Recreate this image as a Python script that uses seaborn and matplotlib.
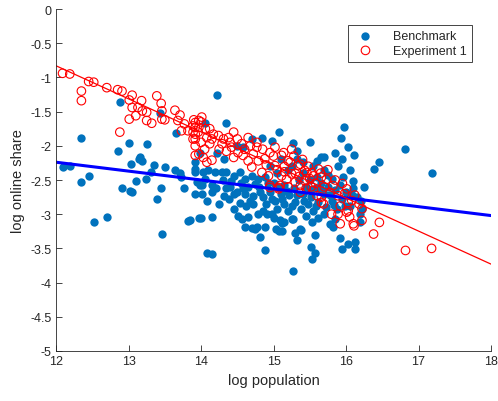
import matplotlib
matplotlib.use('Agg')
import matplotlib.pyplot as plt
import seaborn as sns
import numpy as np

# Benchmark (blue filled)
bench = [
    (12.10, -2.31), (12.19, -2.30), (12.35, -1.88), (12.35, -2.53), (12.45, -2.44),
    (12.52, -3.12), (12.70, -3.04), (12.88, -1.36), (12.85, -2.07), (13.01, -1.96),
    (13.25, -1.98), (13.04, -2.27), (13.16, -2.17), (13.18, -2.22), (13.14, -2.20),
    (13.35, -2.28), (13.50, -2.31), (13.10, -2.52), (13.24, -2.49), (12.91, -2.62),
    (13.02, -2.66), (13.05, -2.67), (13.45, -2.62), (13.39, -2.78), (13.46, -3.29),
    (13.31, -2.39), (13.44, -1.52), (13.66, -1.82), (13.64, -2.36), (13.71, -2.40),
    (13.73, -2.46), (13.77, -2.62), (13.82, -3.10), (13.92, -2.70), (13.92, -2.24),
    (13.92, -2.38), (13.97, -3.06),
    (14.22, -1.25), (14.34, -1.67), (14.06, -1.66), (14.22, -2.10), (14.31, -2.19),
    (13.92, -2.34), (13.99, -2.10), (14.03, -2.38), (14.10, -2.36), (14.19, -2.39),
    (14.29, -2.38), (14.35, -2.39), (14.45, -2.44), (14.54, -2.39), (14.61, -2.49),
    (14.70, -2.44), (14.74, -2.56), (13.94, -2.53), (13.99, -2.58), (14.58, -2.02),
    (14.70, -1.90), (14.49, -2.00), (14.01, -2.58), (14.15, -2.58), (14.01, -2.70),
    (14.15, -2.68), (14.08, -2.80), (14.31, -2.73), (14.38, -2.78), (14.45, -2.70),
    (14.54, -2.83), (14.46, -2.92), (14.61, -2.70), (14.72, -2.73), (14.72, -2.85),
    (13.85, -3.08), (14.00, -3.06), (14.15, -3.04), (14.51, -3.02), (14.56, -3.07),
    (14.65, -3.04), (14.61, -3.19), (14.70, -3.20), (14.74, -3.22), (14.81, -3.34),
    (14.08, -3.56), (14.15, -3.58), (14.88, -3.52), (15.07, -1.80), (14.98, -1.93),
    (15.07, -3.24), (15.09, -3.09), (14.91, -3.00), (14.84, -1.88), (15.27, -1.96),
    (15.50, -1.95), (15.32, -2.07), (15.32, -2.19), (15.60, -2.22), (15.66, -2.17),
    (15.41, -2.24), (15.55, -2.29), (15.97, -1.73), (15.93, -1.89), (16.03, -2.02),
    (15.85, -2.10), (16.11, -2.14), (15.95, -2.19), (15.69, -2.17), (15.89, -2.30),
    (16.38, -2.34), (16.46, -2.23), (15.96, -2.46), (16.10, -2.52), (15.80, -2.49),
    (16.82, -2.04), (17.18, -2.40), (15.27, -3.83), (15.53, -3.66), (15.57, -3.56),
    (15.52, -3.48), (15.57, -3.31), (15.30, -3.27), (15.37, -3.22), (15.92, -3.35),
    (15.94, -3.51), (16.03, -3.44), (16.12, -3.41), (16.12, -3.51), (15.11, -3.24),
    (15.14, -3.12), (15.27, -3.07), (15.53, -3.12), (15.78, -3.14), (15.85, -3.07),
    (16.19, -3.12), (15.04, -3.22), (15.12, -3.13), (15.33, -3.38), (15.38, -3.23),
    (14.88, -3.19), (14.77, -3.19), (14.79, -3.00), (14.98, -3.00), (15.25, -3.07),
    (15.82, -3.18), (16.22, -2.92), (16.19, -3.00), (15.69, -3.00),
    (14.80, -2.60), (14.85, -2.75), (14.90, -2.85), (14.95, -2.68), (15.00, -2.55),
    (15.02, -2.80), (15.05, -2.92), (15.10, -2.70), (15.15, -2.58), (15.15, -2.85),
    (15.20, -2.95), (15.22, -2.72), (15.28, -2.62), (15.30, -2.82), (15.35, -2.50),
    (15.38, -2.92), (15.40, -2.70), (15.45, -2.60), (15.48, -2.85), (15.52, -2.75),
    (15.55, -2.95), (15.58, -2.62), (15.62, -2.82), (15.65, -2.55), (15.70, -2.70),
    (15.72, -2.90), (15.75, -2.60), (15.80, -2.80), (15.85, -2.65), (15.88, -2.92),
    (15.92, -2.58), (15.95, -2.78), (16.00, -2.68), (16.05, -2.88), (16.10, -2.62),
    (16.15, -2.75), (14.88, -2.45), (15.05, -2.40), (15.20, -2.35), (15.40, -2.40),
    (15.60, -2.45), (15.75, -2.42), (14.85, -2.95), (15.00, -3.05), (15.45, -3.02),
    (15.62, -3.05), (14.78, -2.48), (14.65, -2.60), (14.55, -2.55), (14.40, -2.60),
    (14.30, -2.50), (14.20, -2.62), (14.25, -2.85), (14.50, -2.68), (14.68, -2.80),
    (14.05, -2.48), (14.95, -2.30), (15.10, -2.20), (15.25, -2.30), (15.50, -2.50),
    (15.70, -2.35), (16.05, -2.35), (16.25, -2.60), (16.20, -2.80),
    (14.82, -2.68), (14.92, -2.55), (14.98, -2.78), (15.08, -2.62), (15.12, -2.78),
    (15.18, -2.66), (15.25, -2.88), (15.33, -2.72), (15.42, -2.80), (15.50, -2.65),
    (15.58, -2.88), (15.66, -2.65), (15.78, -2.72), (15.84, -2.86), (15.98, -2.88),
    (16.08, -2.72), (14.58, -2.62), (14.62, -2.88), (14.42, -2.52), (14.35, -2.62),
]

# Experiment 1 (red open)
exper = [
    (12.09, -0.94), (12.19, -0.95), (12.45, -1.06), (12.52, -1.07), (12.35, -1.20),
    (12.35, -1.34), (12.70, -1.15), (12.85, -1.18), (12.91, -1.20), (13.05, -1.26),
    (13.01, -1.33), (13.18, -1.34), (13.39, -1.27), (13.45, -1.38), (13.05, -1.44),
    (13.13, -1.44), (13.19, -1.49), (13.25, -1.51), (13.10, -1.56), (13.01, -1.61),
    (13.25, -1.63), (13.32, -1.67), (13.46, -1.49), (13.46, -1.61), (13.50, -1.62),
    (13.64, -1.48), (13.71, -1.55), (13.68, -1.63), (13.77, -1.68), (12.88, -1.80),
    (13.73, -1.78), (13.82, -1.78), (13.92, -1.66), (13.92, -1.73), (13.92, -1.83),
    (13.92, -1.90), (13.92, -2.00), (13.97, -1.63), (13.97, -1.73), (13.97, -2.12),
    (14.01, -1.58), (14.00, -1.65), (13.90, -1.62), (13.89, -1.71), (13.89, -1.80),
    (13.96, -1.80), (13.89, -1.90), (13.92, -2.14), (14.03, -2.17), (14.08, -2.24),
    (14.15, -2.21), (14.06, -1.75), (14.12, -1.75), (14.08, -1.88), (14.15, -1.90),
    (14.17, -1.83), (14.12, -1.97), (14.24, -1.85), (14.31, -1.90), (14.29, -1.97),
    (14.40, -1.95), (14.45, -1.80), (14.42, -2.02), (14.56, -1.97), (14.65, -1.88),
    (14.68, -2.00), (14.51, -2.10), (14.45, -2.17), (14.58, -2.14), (14.65, -2.22),
    (14.72, -2.12), (14.70, -2.31), (14.77, -1.95), (14.79, -2.22), (14.95, -2.58),
    (15.07, -2.63), (14.77, -2.02), (15.02, -2.02), (14.95, -2.10), (15.11, -2.14),
    (14.88, -2.19), (15.20, -2.22), (15.02, -2.29), (15.34, -2.29), (15.43, -2.36),
    (15.53, -2.39), (15.62, -2.34), (15.25, -2.41), (15.11, -2.44), (14.93, -2.44),
    (14.84, -2.39), (15.66, -2.46), (15.43, -2.51), (15.09, -2.58), (15.30, -2.53),
    (15.14, -2.10), (15.23, -2.24), (15.37, -2.27), (15.46, -2.39), (15.55, -2.44),
    (15.73, -2.49), (15.82, -2.58), (16.01, -2.63), (16.12, -2.72), (16.22, -2.92),
    (16.03, -2.83), (15.92, -2.88), (15.80, -3.00), (15.89, -3.00), (16.01, -2.97),
    (16.10, -3.14), (15.92, -3.14), (16.22, -3.09), (16.38, -3.29), (16.46, -3.12),
    (15.69, -2.85), (15.66, -2.75), (15.60, -2.73), (15.37, -2.58), (15.18, -2.49),
    (15.78, -2.68), (15.89, -2.73), (16.82, -3.53), (17.18, -3.50), (16.11, -3.17),
    (16.03, -2.95), (16.05, -3.04), (14.95, -2.61), (15.07, -2.61), (15.37, -2.68),
    (15.66, -2.83), (15.00, -2.15), (15.05, -2.35), (15.15, -2.30), (15.28, -2.15),
    (15.30, -2.40), (15.40, -2.20), (15.48, -2.30), (15.50, -2.48), (15.58, -2.55),
    (15.65, -2.40), (15.70, -2.60), (15.75, -2.35), (15.85, -2.50), (15.95, -2.55),
    (15.98, -2.70), (16.08, -2.80), (15.45, -2.62), (15.55, -2.65), (14.85, -2.05),
    (14.90, -2.28), (14.60, -2.05), (14.35, -2.08), (14.25, -2.05), (14.50, -1.90),
    (14.38, -1.88), (14.05, -2.05), (14.00, -1.95), (15.20, -2.60), (15.15, -2.38),
    (15.35, -2.45), (15.52, -2.60), (16.18, -2.85), (15.25, -2.05),
]

bench_x = [p[0] for p in bench]
bench_y = [p[1] for p in bench]
exp_x = [p[0] for p in exper]
exp_y = [p[1] for p in exper]

# fitted lines (end points at x = 12 and 18)
line_x = [12, 18]
bench_line = [-2.24, -3.02]
exp_line = [-0.83, -3.73]

yticks = [0, -0.5, -1, -1.5, -2, -2.5, -3, -3.5, -4, -4.5, -5]
ytick_labels = ['0', '-0.5', '-1', '-1.5', '-2', '-2.5', '-3', '-3.5', '-4', '-4.5', '-5']
xticks = [12, 13, 14, 15, 16, 17, 18]

sns.set_style('white')
plt.rcParams['font.family'] = ['Liberation Sans', 'DejaVu Sans']
plt.rcParams['axes.unicode_minus'] = False

fig = plt.figure(figsize=(4.98, 4.02), dpi=100)
ax = fig.add_axes([0.1125, 0.1244, 0.8735, 0.8507])

sns.scatterplot(x=bench_x, y=bench_y, ax=ax, color='#0072BD', s=36,
                edgecolor='#0072BD', linewidth=0, label='Benchmark')
sns.scatterplot(x=exp_x, y=exp_y, ax=ax, marker='o', s=38, facecolors='none',
                edgecolor='red', linewidth=0.8, label='Experiment 1')
sns.lineplot(x=line_x, y=bench_line, ax=ax, color='blue', linewidth=2.2)
sns.lineplot(x=line_x, y=exp_line, ax=ax, color='red', linewidth=0.9)

ax.set_xlim(12, 18)
ax.set_ylim(-5, 0)
ax.set_xticks(xticks)
ax.set_xticklabels([str(t) for t in xticks])
ax.set_yticks(yticks)
ax.set_yticklabels(ytick_labels)
ax.tick_params(bottom=True, left=True, direction='in', length=4, width=0.6,
               labelsize=9, colors='#262626', pad=3)
for s in ['top', 'right']:
    ax.spines[s].set_visible(False)
for s in ['left', 'bottom']:
    ax.spines[s].set_color('#262626')
    ax.spines[s].set_linewidth(0.6)

ax.set_xlabel('log population', fontsize=10.5, color='#262626')
ax.set_ylabel('log online share', fontsize=10.5, color='#262626')

leg = ax.legend(loc='upper right', bbox_to_anchor=(0.97, 0.971), fontsize=9,
                fancybox=False, framealpha=1, edgecolor='#262626',
                handletextpad=1.2, borderpad=0.4, labelspacing=0.2)
leg.get_frame().set_linewidth(0.6)

fig.savefig('out.png', dpi=100)
